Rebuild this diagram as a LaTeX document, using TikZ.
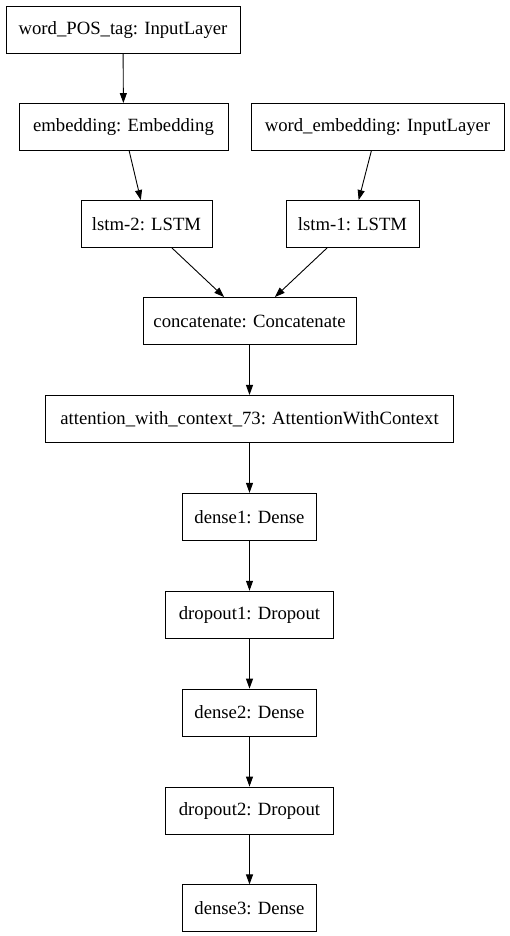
\documentclass[tikz,border=0pt]{standalone}
\usepackage{fontspec}
\setmainfont{Liberation Serif}
\usetikzlibrary{positioning, arrows.meta}

\begin{document}
\begin{tikzpicture}[x=1pt, y=-1pt, font=\fontsize{18.7}{22}\selectfont,
    layer/.style={draw, line width=0.9pt, minimum height=47pt, inner sep=0pt},
    flow/.style={-{Triangle[length=10pt, width=7pt]}, line width=0.9pt}]
            \useasboundingbox (0,0) rectangle (510,936);
            \node [layer, minimum width=234pt] (postag) at (123, 30) {word\_POS\_tag: InputLayer};
            \node [layer, minimum width=209pt] (embedding) at (123.5, 127) {embedding: Embedding};
            \node [layer, minimum width=253pt] (wordemb) at (377.5, 127) {word\_embedding: InputLayer};
            \node [layer, minimum width=131pt] (lstmtwo) at (146.5, 224) {lstm-2: LSTM};
            \node [layer, minimum width=133pt] (lstmone) at (352.5, 224) {lstm-1: LSTM};
            \node [layer, minimum width=213pt] (concat) at (249.5, 321) {concatenate: Concatenate};
            \node [layer, minimum width=408pt, below=50pt of concat] (attention) {attention\_with\_context\_73: AttentionWithContext};
            \node [layer, minimum width=134pt, below=50pt of attention] (denseone) {dense1: Dense};
            \node [layer, minimum width=168pt, below=50pt of denseone] (dropone) {dropout1: Dropout};
            \node [layer, minimum width=134pt, below=50pt of dropone] (densetwo) {dense2: Dense};
            \node [layer, minimum width=168pt, below=50pt of densetwo] (droptwo) {dropout2: Dropout};
            \node [layer, minimum width=134pt, below=50pt of droptwo] (densethree) {dense3: Dense};

            \draw [flow] (postag) -- (embedding);
            \draw [flow] (embedding) -- (lstmtwo);
            \draw [flow] (wordemb) -- (lstmone);
            \draw [flow] (lstmtwo) -- (concat);
            \draw [flow] (lstmone) -- (concat);
            \draw [flow] (concat) -- (attention);
            \draw [flow] (attention) -- (denseone);
            \draw [flow] (denseone) -- (dropone);
            \draw [flow] (dropone) -- (densetwo);
            \draw [flow] (densetwo) -- (droptwo);
            \draw [flow] (droptwo) -- (densethree);
        \end{tikzpicture}
\end{document}
